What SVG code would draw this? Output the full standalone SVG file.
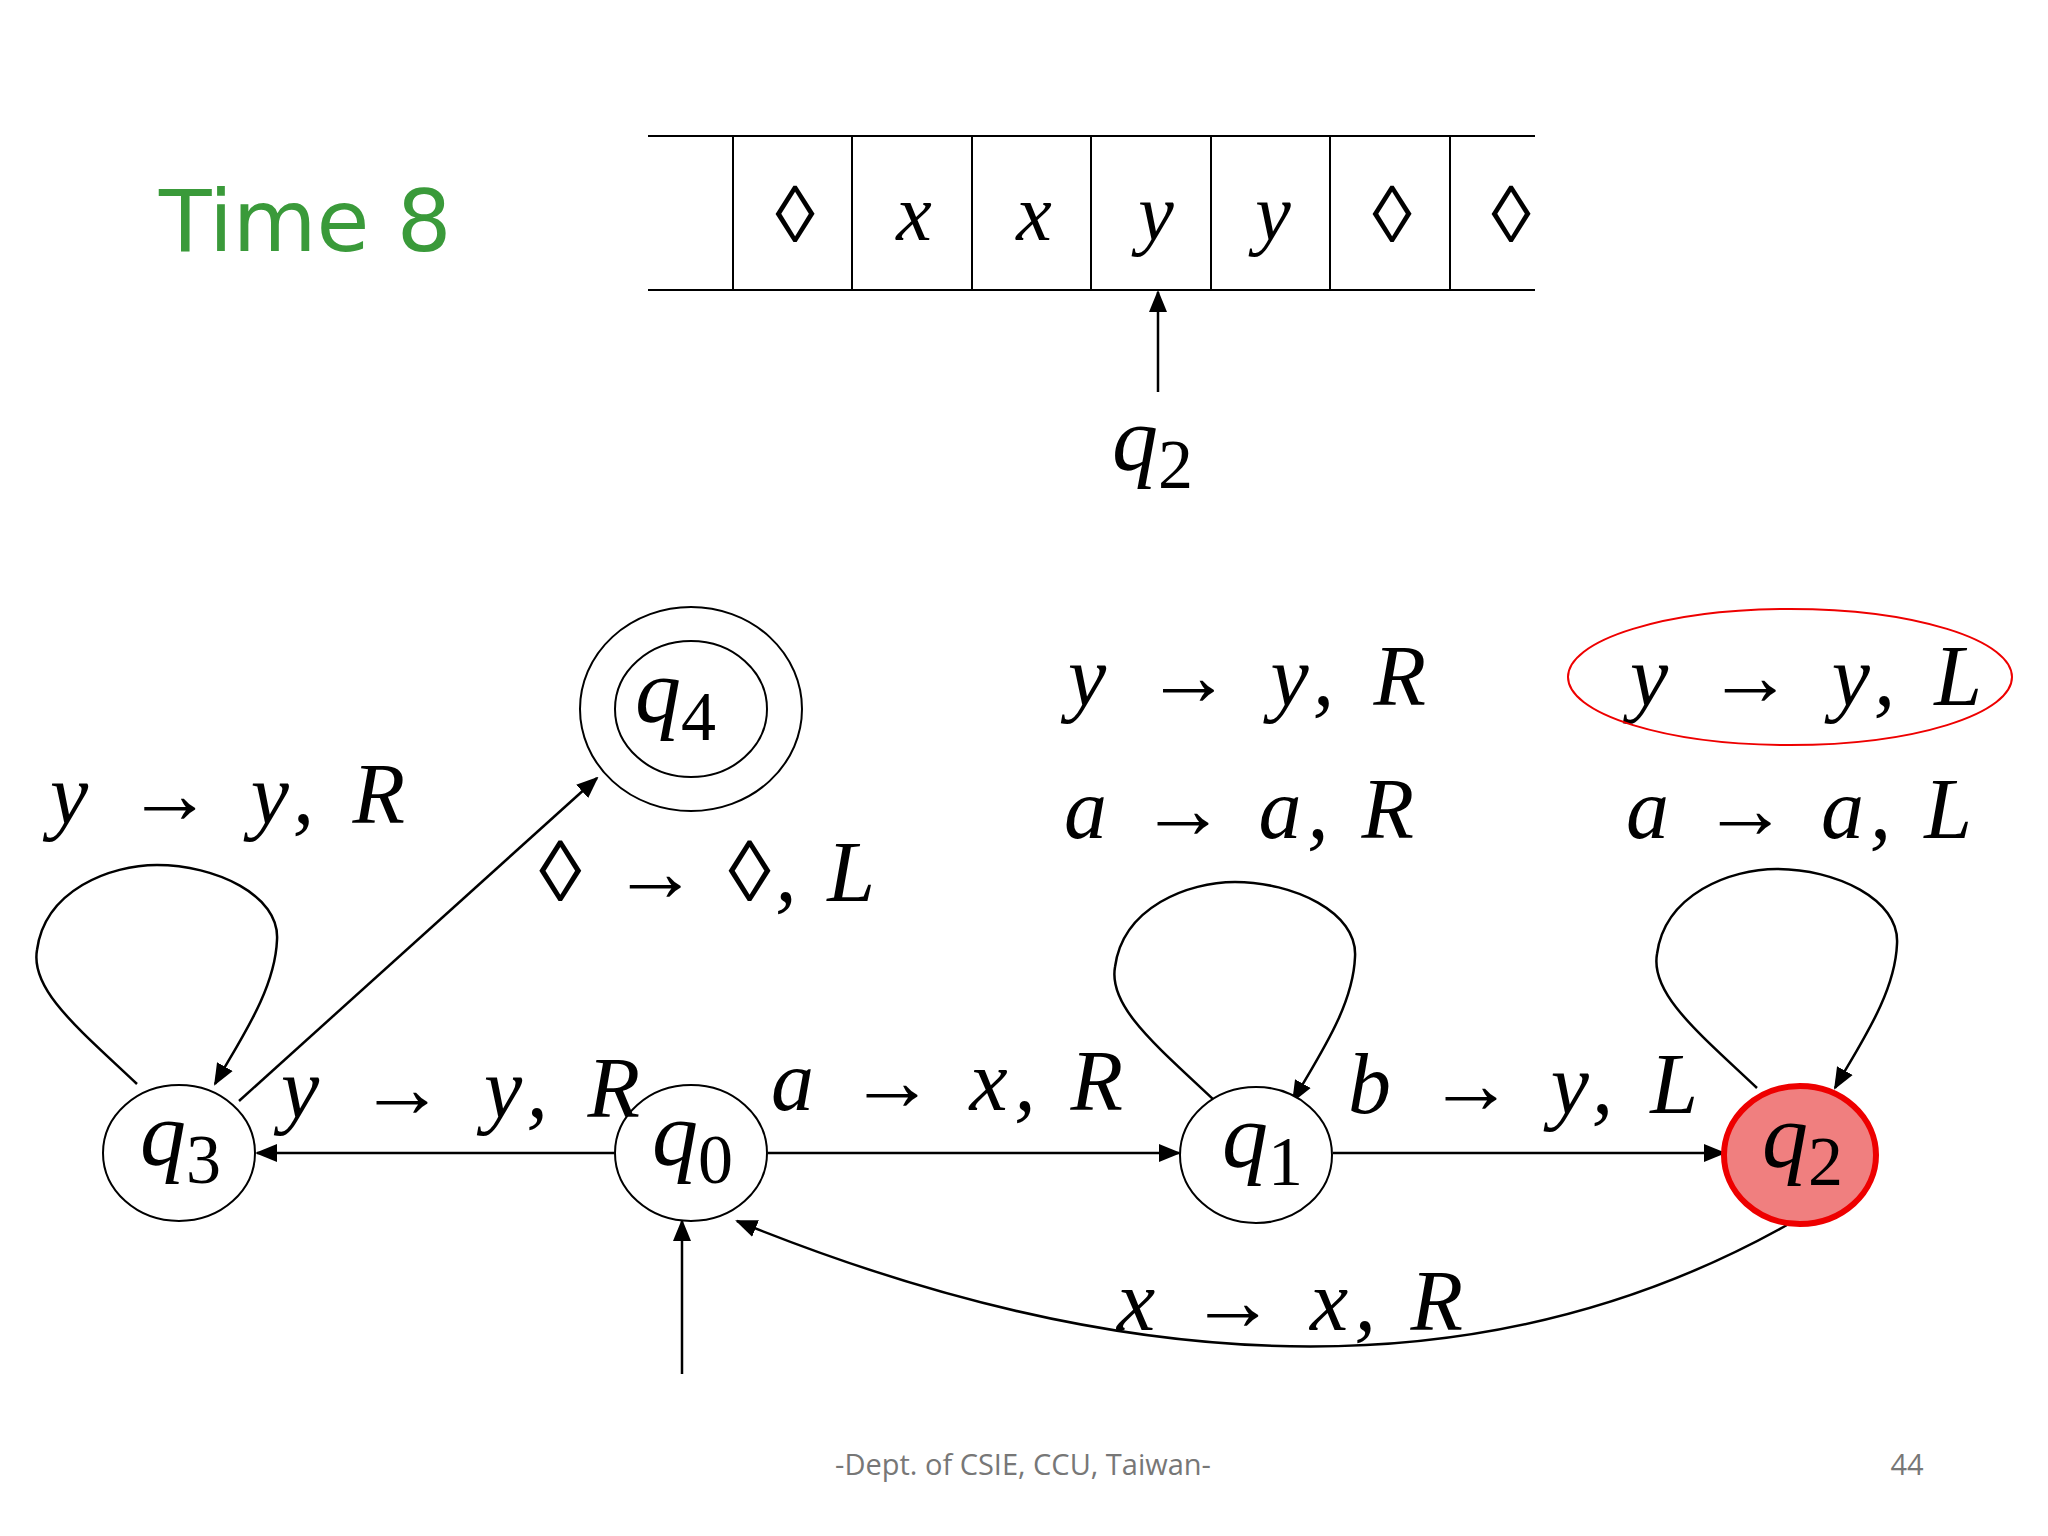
<svg xmlns="http://www.w3.org/2000/svg" width="2048" height="1536" viewBox="0 0 2048 1536">
<style>
.st{fill:#fff;stroke:#000;stroke-width:2}
.ln{fill:none;stroke:#000;stroke-width:2.5}
.q{font-family:"Liberation Serif",serif;font-style:italic;font-size:92px}
.sub{font-family:"Liberation Serif",serif;font-size:70px;font-style:normal}
.lb{font-family:"Liberation Serif",serif;font-style:italic;font-size:86px}
.tp{font-family:"Liberation Serif",serif;font-style:italic;font-size:80px;text-anchor:middle}
</style>
<defs><marker id="ar" markerWidth="10" markerHeight="10" refX="9" refY="5" orient="auto" markerUnits="userSpaceOnUse" viewBox="0 0 10 10"><path d="M0,0 L10,5 L0,10 z" fill="#000"/></marker>
<marker id="a2" markerWidth="22" markerHeight="22" refX="20" refY="11" orient="auto" markerUnits="userSpaceOnUse" viewBox="0 0 22 22"><path d="M0,2 L22,11 L0,20 z" fill="#000"/></marker></defs>
<rect width="2048" height="1536" fill="#fff"/>
<text x="159" y="251" font-family="DejaVu Sans,sans-serif" font-size="86" fill="#3a9a3a">Time 8</text>
<g id="tape" stroke="#000" stroke-width="2">
<line x1="648" y1="136" x2="1535" y2="136"/><line x1="648" y1="290" x2="1535" y2="290"/>
<line x1="733" y1="136" x2="733" y2="290"/><line x1="852" y1="136" x2="852" y2="290"/><line x1="972" y1="136" x2="972" y2="290"/><line x1="1091" y1="136" x2="1091" y2="290"/><line x1="1211" y1="136" x2="1211" y2="290"/><line x1="1330" y1="136" x2="1330" y2="290"/><line x1="1450" y1="136" x2="1450" y2="290"/>
</g>
<g class="tp"><text x="795" y="242" font-style="normal">◊</text><text x="914" y="240">x</text><text x="1034" y="240">x</text><text x="1156" y="240">y</text><text x="1273" y="240">y</text><text x="1392" y="242" font-style="normal">◊</text><text x="1511" y="242" font-style="normal">◊</text></g>
<line x1="1158" y1="392" x2="1158" y2="292" class="ln" marker-end="url(#a2)"/>
<text x="1112" y="470" class="q">q<tspan class="sub" dy="18">2</tspan></text>
<g id="connectors">
<line x1="614" y1="1153" x2="257" y2="1153" class="ln" marker-end="url(#a2)"/>
<line x1="768" y1="1153" x2="1179" y2="1153" class="ln" marker-end="url(#a2)"/>
<line x1="1333" y1="1153" x2="1724" y2="1153" class="ln" marker-end="url(#a2)"/>
<line x1="239" y1="1101" x2="597" y2="778" class="ln" marker-end="url(#a2)"/>
<line x1="682" y1="1374" x2="682" y2="1221" class="ln" marker-end="url(#a2)"/>
<path d="M1787,1225 Q1350,1470 737,1221" class="ln" marker-end="url(#a2)"/>
<path id="loop" d="M137,1084 C80,1030 30,990 37,950 C45,890 110,865 157,865 C215,865 280,895 277,940 C275,990 240,1040 215,1084" class="ln" marker-end="url(#a2)"/>
<path d="M137,1084 C80,1030 30,990 37,950 C45,890 110,865 157,865 C215,865 280,895 277,940 C275,990 240,1040 215,1084" transform="translate(1078,17)" class="ln" marker-end="url(#a2)"/>
<path d="M137,1084 C80,1030 30,990 37,950 C45,890 110,865 157,865 C215,865 280,895 277,940 C275,990 240,1040 215,1084" transform="translate(1620,4)" class="ln" marker-end="url(#a2)"/>
</g>
<g id="q3"><ellipse cx="179" cy="1153" rx="76" ry="68" class="st"/><text x="140" y="1165" class="q">q<tspan class="sub" dy="18">3</tspan></text></g>
<g id="q0"><ellipse cx="691" cy="1153" rx="76" ry="68" class="st"/><text x="652" y="1165" class="q">q<tspan class="sub" dy="18">0</tspan></text></g>
<g id="q1"><ellipse cx="1256" cy="1155" rx="76" ry="68" class="st"/><text x="1222" y="1167" class="q">q<tspan class="sub" dy="18">1</tspan></text></g>
<g id="q2"><ellipse cx="1800" cy="1155" rx="76" ry="69" fill="#f07f7f" stroke="#e00" stroke-width="6"/><text x="1762" y="1167" class="q">q<tspan class="sub" dy="18">2</tspan></text></g>
<g id="q4"><ellipse cx="691" cy="709" rx="111" ry="102" class="st"/><ellipse cx="691" cy="709" rx="76" ry="68" class="st"/><text x="635" y="722" class="q">q<tspan class="sub" dy="18">4</tspan></text></g>
<g class="lb">
<text x="50" y="823" textLength="355" lengthAdjust="spacing">y → y, R</text>
<text x="539" y="901" textLength="336" lengthAdjust="spacing"><tspan font-style="normal">◊</tspan> → <tspan font-style="normal">◊</tspan>, L</text>
<text x="281" y="1117" textLength="359" lengthAdjust="spacing">y → y, R</text>
<text x="771" y="1110" textLength="352" lengthAdjust="spacing">a → x, R</text>
<text x="1068" y="705" textLength="358" lengthAdjust="spacing">y → y, R</text>
<text x="1064" y="838" textLength="350" lengthAdjust="spacing">a → a, R</text>
<text x="1630" y="705" textLength="352" lengthAdjust="spacing">y → y, L</text>
<text x="1626" y="838" textLength="346" lengthAdjust="spacing">a → a, L</text>
<text x="1348" y="1113" textLength="350" lengthAdjust="spacing">b → y, L</text>
<text x="1117" y="1330" textLength="346" lengthAdjust="spacing">x → x, R</text>
</g>
<ellipse cx="1790" cy="677" rx="222" ry="68" fill="none" stroke="#e00" stroke-width="2"/>
<text x="1023" y="1475" text-anchor="middle" font-family="Open Sans,sans-serif" font-size="29" fill="#777">-Dept. of CSIE, CCU, Taiwan-</text>
<text x="1907" y="1475" text-anchor="middle" font-family="Open Sans,sans-serif" font-size="29" fill="#777">44</text>
</svg>
